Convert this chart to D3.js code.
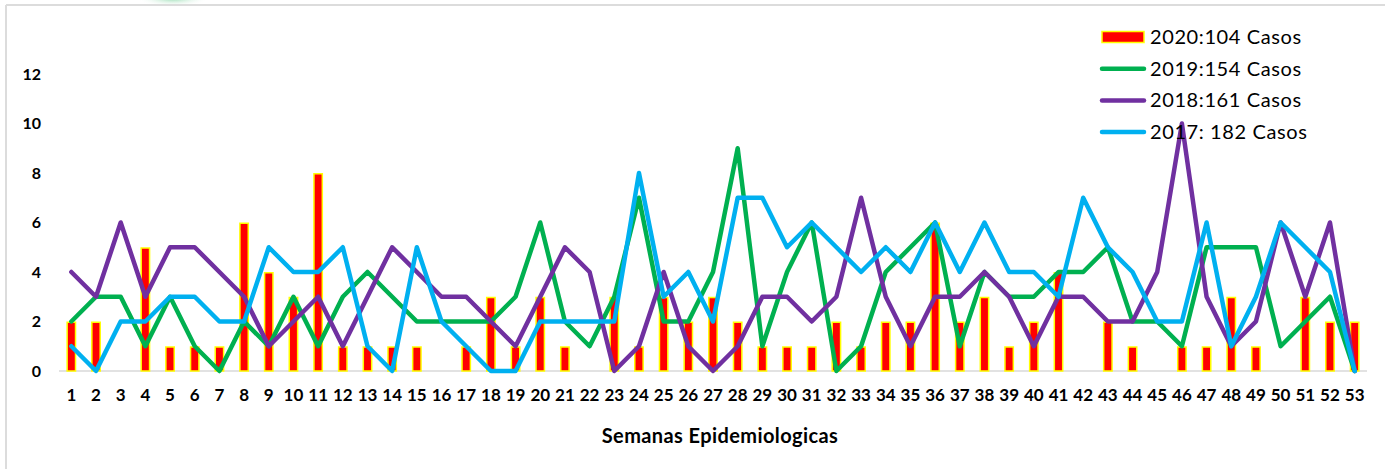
<!DOCTYPE html>
<html>
<head>
<meta charset="utf-8">
<script src="https://cdn.jsdelivr.net/npm/d3@7"></script>
<style>
  html, body { margin: 0; padding: 0; background: #fff; }
  svg { display: block; }
</style>
</head>
<body>
<svg id="chart" width="1385" height="469"></svg>
<script>
const weeks = d3.range(1, 54).map(String);
const yTicks = [0, 2, 4, 6, 8, 10, 12];
const seriesNames = ["2020:104 Casos", "2019:154 Casos", "2018:161 Casos", "2017: 182 Casos"];
const cases2020 = [2,2,0,5,1,1,1,6,4,3, 8,1,1,1,1,0,1,3,1,3, 1,0,3,1,3,2,3,2,1,1, 1,2,1,2,2,6,2,3,1,2, 4,0,2,1,0,1,1,3,1,0, 3,2,2];
const cases2019 = [2,3,3,1,3,1,0,2,1,3, 1,3,4,3,2,2,2,2,3,6, 2,1,3,7,2,2,4,9,1,4, 6,0,1,4,5,6,1,4,3,3, 4,4,5,2,2,1,5,5,5,1, 2,3,0];
const cases2018 = [4,3,6,3,5,5,4,3,1,2, 3,1,3,5,4,3,3,2,1,3, 5,4,0,1,4,1,0,1,3,3, 2,3,7,3,1,3,3,4,3,1, 3,3,2,2,4,10,3,1,2,6, 3,6,0];
const cases2017 = [1,0,2,2,3,3,2,2,5,4, 4,5,1,0,5,2,1,0,0,2, 2,2,2,8,3,4,2,7,7,5, 6,5,4,5,4,6,4,6,4,4, 3,7,5,4,2,2,6,1,3,6, 5,4,0];
const xTitle = "Semanas Epidemiologicas";

const svg = d3.select("#chart");
const FONT = "Lato, 'Liberation Sans', sans-serif";

// frame + decorative glow
const defs = svg.append("defs");
const grad = defs.append("radialGradient").attr("id", "glow");
grad.append("stop").attr("offset", "0%").attr("stop-color", "#7fd4a0").attr("stop-opacity", 0.9);
grad.append("stop").attr("offset", "100%").attr("stop-color", "#ffffff").attr("stop-opacity", 0);
svg.append("ellipse").attr("cx", 173).attr("cy", -2).attr("rx", 36).attr("ry", 9).attr("fill", "url(#glow)");
svg.append("line").attr("x1", 6).attr("x2", 1385).attr("y1", 5).attr("y2", 5)
  .attr("stroke", "#dcdcdc").attr("stroke-width", 2);
svg.append("line").attr("x1", 6).attr("x2", 6).attr("y1", 5).attr("y2", 469)
  .attr("stroke", "#dcdcdc").attr("stroke-width", 2);

const x = d3.scaleBand().domain(weeks).range([59, 1367]).padding(0);
const y = d3.scaleLinear().domain([0, 12]).range([371, 74]);
const cx = d => x(d) + x.bandwidth() / 2;

// baseline
svg.append("line").attr("x1", x.range()[0]).attr("x2", x.range()[1])
  .attr("y1", y(0)).attr("y2", y(0)).attr("stroke", "#d9d9d9").attr("stroke-width", 1.5);

// y axis labels
const yAxis = d3.axisLeft(y).tickValues(yTicks).tickSize(0).tickPadding(0);
const gy = svg.append("g").attr("transform", "translate(41,0)").call(yAxis);
gy.select(".domain").remove();
gy.selectAll("text").attr("font-family", FONT)
  .attr("font-weight", "bold").attr("font-size", "16px").attr("fill", "#000");

// x axis labels
const xAxis = d3.axisBottom(x).tickSize(0).tickPadding(0);
const gx = svg.append("g").attr("transform", "translate(0,389)").call(xAxis);
gx.select(".domain").remove();
gx.selectAll("text").attr("font-family", FONT)
  .attr("font-weight", "bold").attr("font-size", "17px").attr("fill", "#000")
  .attr("dy", "0.71em");

// bars
const barW = x.bandwidth() * 0.4;
svg.append("g").selectAll("rect").data(weeks.map((w, i) => ({w, v: cases2020[i]})).filter(d => d.v > 0))
  .join("rect")
  .attr("x", d => cx(d.w) - barW / 2 + 0.75)
  .attr("width", barW - 1.5)
  .attr("y", d => y(d.v) + 0.75)
  .attr("height", d => y(0) - y(d.v) - 0.75)
  .attr("fill", "#ff0000").attr("stroke", "#ffff00").attr("stroke-width", 1.5);

// lines
const lineGen = d3.line().x((d, i) => cx(weeks[i])).y(d => y(d));
const lineSeries = [
  {vals: cases2019, color: "#00b050"},
  {vals: cases2018, color: "#7030a0"},
  {vals: cases2017, color: "#00b0f0"}
];
lineSeries.forEach(s => {
  svg.append("path").datum(s.vals).attr("d", lineGen)
    .attr("fill", "none").attr("stroke", s.color).attr("stroke-width", 4.5)
    .attr("stroke-linejoin", "round").attr("stroke-linecap", "round");
});

// legend
const legColors = ["#ff0000", "#00b050", "#7030a0", "#00b0f0"];
const lg = svg.append("g");
seriesNames.forEach((name, i) => {
  const cy = 37 + i * 31.7;
  if (i === 0) {
    lg.append("rect").attr("x", 1102).attr("y", cy - 5.5).attr("width", 42).attr("height", 11)
      .attr("fill", "#ff0000").attr("stroke", "#ffff00").attr("stroke-width", 1.5);
  } else {
    lg.append("line").attr("x1", 1102).attr("x2", 1144).attr("y1", cy).attr("y2", cy)
      .attr("stroke", legColors[i]).attr("stroke-width", 4.5).attr("stroke-linecap", "round");
  }
  lg.append("text").attr("x", 1150).attr("y", cy).attr("dy", "0.35em")
    .attr("font-family", FONT).attr("font-size", "20px")
    .attr("letter-spacing", "0.6px").attr("fill", "#000").text(name);
});

// x axis title
svg.append("text").attr("x", 720).attr("y", 436).attr("dy", "0.35em").attr("text-anchor", "middle")
  .attr("font-family", FONT).attr("font-weight", "bold")
  .attr("font-size", "20px").attr("letter-spacing", "0.4px").attr("fill", "#000").text(xTitle);
</script>
</body>
</html>
